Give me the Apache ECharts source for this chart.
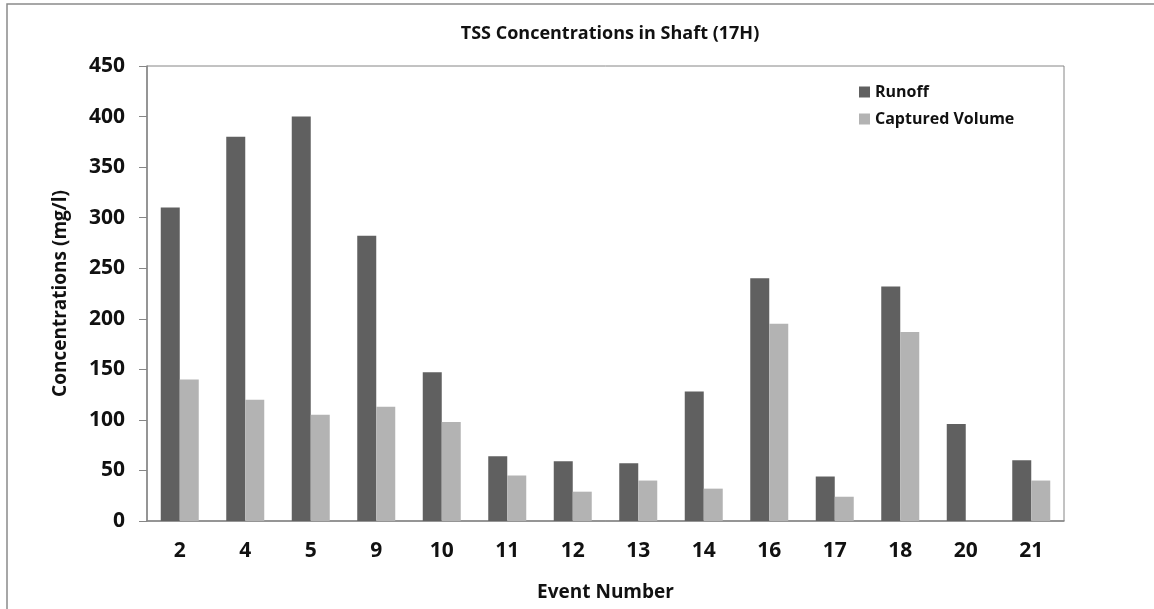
<!DOCTYPE html>
<html>
<head>
<meta charset="utf-8">
<title>TSS Concentrations in Shaft (17H)</title>
<script src="https://cdn.jsdelivr.net/npm/echarts@6/dist/echarts.min.js"></script>
<style>
  html, body { margin: 0; padding: 0; background: #fff; }
  #chart { width: 1154px; height: 609px; }
</style>
</head>
<body>
<div id="chart"></div>
<script>
// event numbers on the x axis
var events = ['2', '4', '5', '9', '10', '11', '12', '13', '14', '16', '17', '18', '20', '21'];
// TSS concentrations (mg/l)
var runoff = [310, 380, 400, 282, 147, 64, 59, 57, 128, 240, 44, 232, 96, 60];
var captured = [140, 120, 105, 113, 98, 45, 29, 40, 32, 195, 24, 187, null, 40];
var yTicks = { min: 0, max: 450, interval: 50 };

var font = '"Open Sans", sans-serif';

var chart = echarts.init(document.getElementById('chart'));

var option = {
  backgroundColor: '#fff',
  animation: false,
  title: {
    text: 'TSS Concentrations in Shaft (17H)',
    left: 605,
    textAlign: 'center',
    top: 20,
    textStyle: { fontFamily: font, fontWeight: 'bold', fontSize: 18, color: '#111' }
  },
  graphic: [{
    type: 'rect',
    shape: { x: 7, y: 4, width: 1170, height: 640 },
    style: { fill: 'none', stroke: '#8a8a8a', lineWidth: 1.5 },
    silent: true
  }],
  legend: {
    orient: 'vertical',
    left: 854,
    top: 79,
    itemWidth: 11,
    itemHeight: 11,
    itemGap: 11,
    icon: 'rect',
    textStyle: { fontFamily: font, fontWeight: 'bold', fontSize: 16, color: '#111' },
    data: ['Runoff', 'Captured Volume']
  },
  grid: {
    left: 147,
    top: 66,
    right: 90,
    bottom: 88,
    show: true,
    borderColor: '#868686',
    borderWidth: 1,
    containLabel: false
  },
  xAxis: {
    type: 'category',
    data: events,
    name: 'Event Number',
    nameLocation: 'middle',
    nameGap: 62,
    nameTextStyle: { fontFamily: font, fontWeight: 'bold', fontSize: 19, color: '#111' },
    axisLine: { lineStyle: { color: '#868686', width: 1.5 } },
    axisTick: { show: false },
    axisLabel: { fontFamily: font, fontWeight: 'bold', fontSize: 21, color: '#111', margin: 20 }
  },
  yAxis: {
    type: 'value',
    min: yTicks.min,
    max: yTicks.max,
    interval: yTicks.interval,
    name: 'Concentrations (mg/l)',
    nameLocation: 'middle',
    nameGap: 77,
    nameTextStyle: { fontFamily: font, fontWeight: 'bold', fontSize: 19, color: '#111' },
    axisLine: { show: true, lineStyle: { color: '#868686', width: 1.5 } },
    axisTick: { show: true, inside: false, length: 8, lineStyle: { color: '#868686' } },
    axisLabel: { fontFamily: font, fontWeight: 'bold', fontSize: 21, color: '#111', margin: 22 },
    splitLine: { show: false }
  },
  series: [
    {
      name: 'Runoff',
      type: 'bar',
      data: runoff,
      barWidth: 19,
      barGap: '0%',
      itemStyle: { color: '#606060' }
    },
    {
      name: 'Captured Volume',
      type: 'bar',
      data: captured,
      barWidth: 19,
      barGap: '0%',
      itemStyle: { color: '#b3b3b3' }
    }
  ]
};

chart.setOption(option);
</script>
</body>
</html>
